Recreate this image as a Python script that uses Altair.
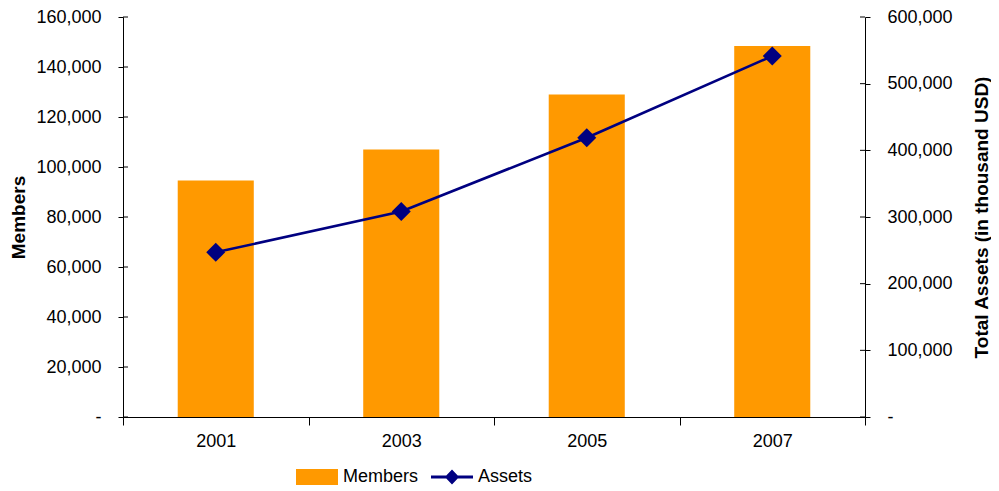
import altair as alt
import pandas as pd

years = ["2001", "2003", "2005", "2007"]
members = [94600, 107000, 129000, 148400]
assets = [247000, 308300, 418900, 541400]
left_ticks = [0, 20000, 40000, 60000, 80000, 100000, 120000, 140000, 160000]
right_ticks = [0, 100000, 200000, 300000, 400000, 500000, 600000]

ORANGE = "#FF9900"
NAVY = "#000080"
W, H = 742, 400
FONT = "Liberation Sans"

df = pd.DataFrame({"Year": years, "Members": members, "Assets": assets})
lt = pd.DataFrame({"v": left_ticks})
rt = pd.DataFrame({"v": right_ticks})

lab_expr = "datum.value == 0 ? '-' : format(datum.value, ',')"

x_enc = alt.X(
    "Year:O",
    scale=alt.Scale(paddingInner=0, paddingOuter=0),
    axis=alt.Axis(
        title=None, labelAngle=0, tickBand="extent", tickSize=8,
        labelPadding=7, labelFontSize=18, labelFont=FONT, labelColor="#000",
        domainColor="#000", tickColor="#000", grid=False,
    ),
)

left_axis = alt.Axis(
    orient="left", values=left_ticks, labelExpr=lab_expr, grid=False,
    tickSize=5, labelPadding=17, labelFontSize=18, labelFont=FONT,
    labelColor="#000", domainColor="#000", tickColor="#000",
    title="Members", titleFontSize=19, titleFont=FONT, titleFontWeight="bold",
    titleColor="#000", titleX=-105, titleY=H / 2, titleAngle=270,
    titleAlign="center", titleBaseline="middle",
)
right_axis = alt.Axis(
    orient="right", values=right_ticks, labelExpr=lab_expr, grid=False,
    tickSize=5, labelPadding=17, labelFontSize=18, labelFont=FONT,
    labelColor="#000", domainColor="#000", tickColor="#000",
    title="Total Assets (in thousand USD)", titleFontSize=19, titleFont=FONT,
    titleFontWeight="bold", titleColor="#000", titleX=116, titleY=H / 2,
    titleAngle=270, titleAlign="center", titleBaseline="middle",
)
left_scale = alt.Scale(domain=[0, 160000], nice=False)
right_scale = alt.Scale(domain=[0, 600000], nice=False)

legend_shapes = (
    "datum.value === 'Members' ? 'M-1,-0.38L1,-0.38L1,0.38L-1,0.38Z' : "
    "'M-1,-0.07L1,-0.07L1,0.07L-1,0.07Z M0,-0.36L0.34,0L0,0.36L-0.34,0Z'"
)

color_enc = alt.Color(
    "series:N",
    scale=alt.Scale(domain=["Members", "Assets"], range=[ORANGE, NAVY]),
    legend=alt.Legend(
        title=None, orient="none", legendX=173, legendY=439, direction="horizontal",
        symbolSize=1764, labelFontSize=18, labelFont=FONT, labelColor="#000",
        labelOffset=5, columnPadding=12, padding=0,
        symbolType=alt.ExprRef(expr=legend_shapes),
        symbolStrokeWidth=0, symbolOpacity=1,
    ),
)

bars = (
    alt.Chart(df)
    .transform_calculate(series="'Members'")
    .mark_bar(width=alt.RelativeBandSize(0.41))
    .encode(
        x=x_enc,
        y=alt.Y("Members:Q", scale=left_scale, axis=left_axis),
        color=color_enc,
    )
)

left_inner = (
    alt.Chart(lt)
    .mark_rule(color="#000", strokeWidth=1)
    .encode(y=alt.Y("v:Q", scale=left_scale, axis=left_axis), x=alt.value(0), x2=alt.value(5))
)

line = (
    alt.Chart(df)
    .transform_calculate(series="'Assets'")
    .mark_line(strokeWidth=2.6)
    .encode(
        x="Year:O",
        y=alt.Y("Assets:Q", scale=right_scale, axis=right_axis),
        color=color_enc,
    )
)

points = (
    alt.Chart(df)
    .mark_point(shape="diamond", filled=True, size=360, color=NAVY, opacity=1)
    .encode(x="Year:O", y=alt.Y("Assets:Q", scale=right_scale, axis=right_axis))
)

right_inner = (
    alt.Chart(rt)
    .mark_rule(color="#000", strokeWidth=1)
    .encode(y=alt.Y("v:Q", scale=right_scale, axis=right_axis), x=alt.value(W - 5), x2=alt.value(W))
)

left = alt.layer(bars, left_inner)
right = alt.layer(line, points, right_inner)

chart = (
    alt.layer(left, right)
    .resolve_scale(y="independent")
    .properties(
        width=W, height=H, autosize=alt.AutoSizeParams(type="none"),
        padding={"left": 115, "top": 9, "right": 126, "bottom": 72},
    )
    .configure_view(stroke=None)
)

chart.save("out.html", embed_options={"renderer": "svg", "actions": False})
